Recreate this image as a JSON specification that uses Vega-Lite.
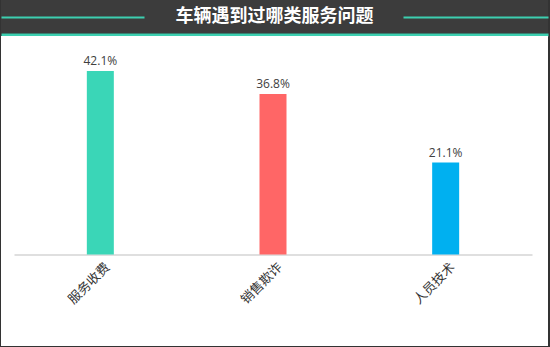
{
  "$schema": "https://vega.github.io/schema/vega-lite/v6.json",
  "background": "#333333",
  "padding": {"left": 1, "right": 2, "top": 0, "bottom": 1},
  "bounds": "flush",
  "spacing": 3,
  "datasets": {
    "banner": [{"title": "车辆遇到过哪类服务问题"}],
    "issues": [
      {"category": "服务收费", "share": 0.421},
      {"category": "销售欺诈", "share": 0.368},
      {"category": "人员技术", "share": 0.211}
    ]
  },
  "vconcat": [
    {
      "width": 547,
      "height": 33,
      "view": {"fill": "#3c3c3c", "stroke": null},
      "data": {"name": "banner"},
      "mark": {"type": "text", "color": "white", "fontSize": 18, "fontWeight": "bold", "font": "Noto Sans CJK SC", "baseline": "middle", "align": "center"},
      "encoding": {
        "x": {
          "field": "title", "type": "nominal",
          "scale": {"paddingInner": 0, "paddingOuter": 0},
          "axis": {"labels": false, "ticks": false, "title": null, "domainColor": "#3ccfb0", "domainWidth": 3, "offset": 1.5}
        },
        "y": {
          "datum": 0.5, "type": "quantitative",
          "scale": {"domain": [0, 1]},
          "axis": {"values": [0.5], "grid": true, "gridColor": "#3ccfb0", "gridWidth": 2, "gridOpacity": 1, "gridDash": [143, 259, 145], "labels": false, "ticks": false, "domain": false, "title": null}
        },
        "text": {"field": "title"}
      }
    },
    {
      "width": 547,
      "height": 310,
      "view": {"fill": "white", "stroke": null},
      "data": {"name": "issues"},
      "encoding": {
        "x": {
          "field": "category", "type": "nominal", "sort": null,
          "scale": {"range": [13, 531], "paddingInner": 0, "paddingOuter": 0},
          "axis": {"title": null, "ticks": false, "domainColor": "#bfbfbf", "domainWidth": 1, "labelAngle": -45, "labelFont": "Noto Sans CJK SC", "labelFontSize": 13, "labelColor": "#333333", "offset": -91.5, "labelPadding": 6, "labelOffset": 3}
        },
        "y": {
          "field": "share", "type": "quantitative",
          "scale": {"domain": [0, 0.5], "range": [218.5, 0.5]},
          "axis": null
        }
      },
      "layer": [
        {
          "mark": {"type": "bar", "size": 27},
          "encoding": {
            "color": {
              "field": "category", "type": "nominal", "sort": null,
              "scale": {"domain": ["服务收费", "销售欺诈", "人员技术"], "range": ["#3ad6b7", "#ff6666", "#00b0f0"]},
              "legend": null
            }
          }
        },
        {
          "mark": {"type": "text", "baseline": "bottom", "dy": -3, "fontSize": 12, "color": "#404040", "font": "Open Sans"},
          "encoding": {"text": {"field": "share", "type": "quantitative", "format": ".1%"}}
        }
      ]
    }
  ]
}
